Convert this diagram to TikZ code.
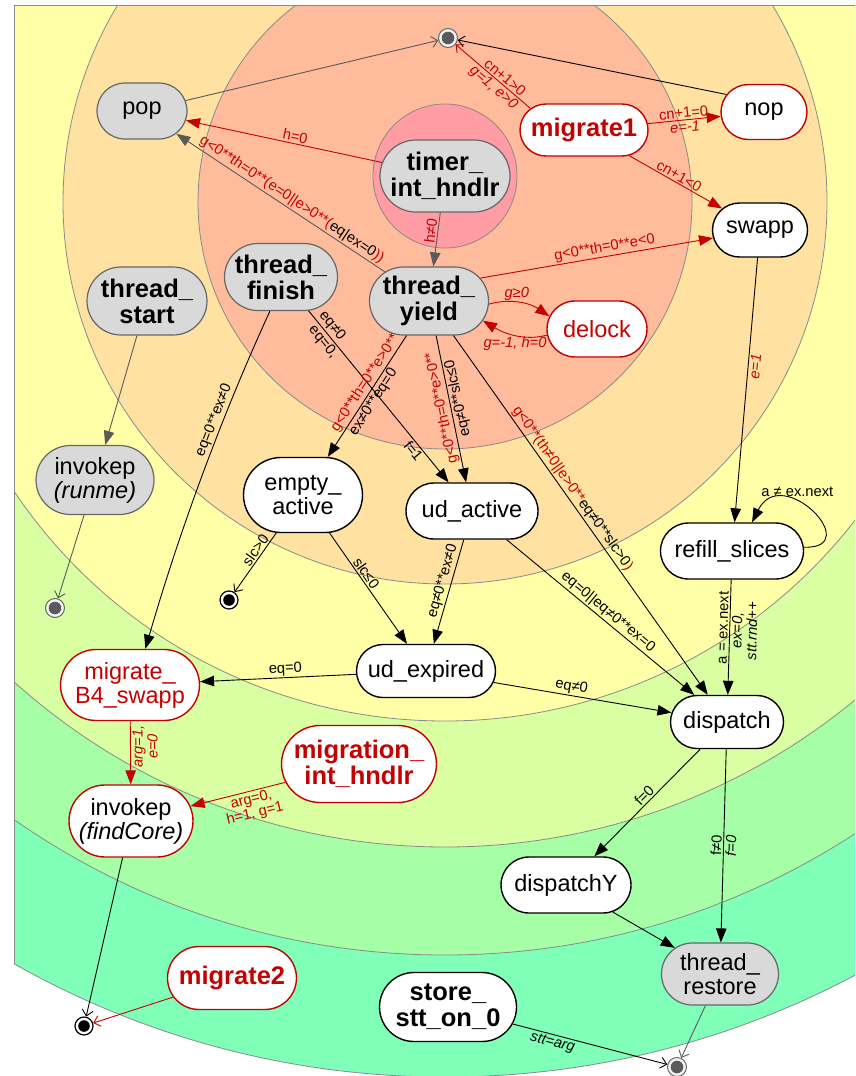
\documentclass[tikz,border=0pt]{standalone}
\usepackage{fontspec}
\setmainfont{Liberation Sans}
\usetikzlibrary{shapes.misc, arrows.meta}

\definecolor{rd}{HTML}{C40000}
\definecolor{nodegray}{HTML}{D9D9D9}
\definecolor{nodeedge}{HTML}{666666}
\definecolor{edgegray}{HTML}{5A5A5A}
\definecolor{ring}{HTML}{8A8A8A}
\definecolor{cpink}{HTML}{FF9CA4}
\definecolor{csalmon}{HTML}{FFBC9D}
\definecolor{ctan}{HTML}{FFE2A2}
\definecolor{cyel}{HTML}{FFFFA8}
\definecolor{clgrn}{HTML}{D9FFA2}
\definecolor{cgrn}{HTML}{A6FFA6}
\definecolor{cmint}{HTML}{80FFB9}

\tikzset{
  tri/.tip={Triangle[length=14pt,width=10.5pt]},
  opn/.tip={Straight Barb[length=6pt,width=11pt]},
  nd/.style={rounded rectangle, draw=black, line width=1.4pt, fill=white,
    inner sep=0pt, align=center, font=\fontsize{23.5}{24}\selectfont},
  gnd/.style={nd, fill=nodegray, draw=nodeedge, line width=1.2pt},
  rnd/.style={nd, draw=rd, text=rd},
  rbox/.style={nd, draw=rd},
  bf/.style={font=\fontsize{25.5}{26}\selectfont\bfseries},
  sz/.style 2 args={minimum width=#1pt, minimum height=#2pt},
  gfin/.style={circle, draw=nodeedge, fill=nodegray!90!black!20, line width=1pt,
    minimum size=19pt, inner sep=0pt,
    path picture={\fill[edgegray] (path picture bounding box.center) circle[radius=6.3pt];}},
  bfin/.style={circle, draw=black, fill=white, line width=1.2pt,
    minimum size=18pt, inner sep=0pt,
    path picture={\fill[black] (path picture bounding box.center) circle[radius=5.8pt];}},
  lbl/.style={font=\fontsize{14.7}{15}\selectfont, inner sep=1.5pt},
  il/.style={lbl, font=\fontsize{14.7}{15}\selectfont\itshape},
  bedge/.style={draw=black, line width=0.9pt},
  gedge/.style={draw=edgegray, line width=0.9pt},
  redge/.style={draw=rd, line width=0.9pt},
}

\begin{document}
\begin{tikzpicture}[x=1pt,y=-1pt]
\useasboundingbox (0,0) rectangle (855,1076);
\clip (0,0) rectangle (855,1076);

% concentric bands
\begin{scope}
  \clip (14,5) rectangle (880,1200);
  \foreach \r/\c in {875/cmint,753/cgrn,645/clgrn,519/cyel,382/ctan,247/csalmon}
    \filldraw[fill=\c, draw=ring, line width=0.8pt] (445,202) circle[radius=\r];
  \filldraw[fill=cpink, draw=ring, line width=0.8pt] (445,176) circle[radius=72];
\end{scope}
\begin{scope}
  \clip (445,202) circle[radius=875];
  \draw[ring, line width=1pt] (14,5) rectangle (880,1200);
\end{scope}

% states
\node[gnd, sz={90}{56}] (pop) at (142,111) {pop};
\node[rbox, sz={86}{55}] (nop) at (764,112) {nop};
\node[rnd, bf, sz={128}{52}] (m1) at (584,130) {migrate1};
\node[nd, sz={95}{54}] (swapp) at (760,230) {swapp};
\node[gnd, bf, sz={130}{72}] (timer) at (445,176) {timer\_\\int\_hndlr};
\node[gnd, bf, sz={113}{67}] (finish) at (281,277) {thread\_\\finish};
\node[gnd, bf, sz={119}{68}] (yield) at (429,301) {thread\_\\yield};
\node[rnd, sz={100}{56}] (delock) at (597,329) {delock};
\node[gnd, bf, sz={120}{68}] (start) at (147,301) {thread\_\\start};
\node[gnd, sz={118}{69}] (runme) at (95,480) {invokep\\\textit{(runme)}};
\node[nd, sz={119}{75}] (empty) at (303,495) {empty\_\\active};
\node[nd, sz={132}{56}] (udact) at (472,511) {ud\_active};
\node[nd, sz={139}{53}] (udexp) at (426,671) {ud\_expired};
\node[nd, sz={143}{56}] (refill) at (732,551) {refill\_slices};
\node[nd, sz={113}{53}] (disp) at (727,722) {dispatch};
\node[rnd, sz={139}{71}] (b4) at (130,685) {migrate\_\\B4\_swapp};
\node[rnd, bf, sz={155}{77}] (migint) at (359,764) {migration\_\\int\_hndlr};
\node[rbox, sz={124}{72}] (findcore) at (131,821) {invokep\\\textit{(findCore)}};
\node[nd, sz={130}{56}] (dispY) at (566,885) {dispatchY};
\node[gnd, sz={117}{62}] (restore) at (720,974) {thread\_\\restore};
\node[nd, bf, sz={137}{69}] (store) at (448,1007) {store\_\\stt\_on\_0};
\node[rnd, bf, sz={129}{63}] (mig2) at (232,978) {migrate2};

% final states
\node[gfin] (f1) at (448,38) {};
\node[gfin] (f2) at (55,608) {};
\node[bfin] (f3) at (229,600) {};
\node[bfin] (f4) at (84,1026) {};
\node[gfin] (f5) at (677,1067) {};

% transitions
\draw[gedge,-opn] (pop) -- (f1);
\draw[bedge,-opn] (nop.155) -- (f1);
\draw[redge,-opn] (m1.158) --
  node[lbl,text=rd,sloped,above,pos=.4]{cn+1>0}
  node[il,text=rd,sloped,below,pos=.42]{g=1, e>0} (f1);
\draw[redge,-tri] (m1) --
  node[lbl,text=rd,sloped,above]{cn+1=0}
  node[il,text=rd,sloped,below]{e=-1} (nop);
\draw[redge,-tri] (m1) -- node[lbl,text=rd,sloped,above]{cn+1<0} (swapp);
\draw[redge,-tri] (timer) -- node[lbl,text=rd,sloped,above,pos=.45]{h=0} (pop);
\draw[gedge,-tri] (timer) -- node[lbl,text=rd,sloped,above,pos=.35]{h≠0} (yield);
\draw[gedge,-tri] (yield) --
  node[lbl,sloped,above,pos=.47]{\textcolor{rd}{g<0**th=0**(e=0||e>0**(}eq|ex=0\textcolor{rd}{))}} (pop);
\draw[redge,-tri] (yield.24) -- node[lbl,text=rd,sloped,above,pos=.54]{g<0**th=0**e<0} (swapp);
\draw[redge,-tri] (yield.-3) .. controls (510,298) and (530,303) ..
  node[il,text=rd,above,pos=.45]{g≥0} (delock.165);
\draw[redge,-tri] (delock.187) .. controls (525,341) and (505,334) ..
  node[il,text=rd,below,pos=.5]{g=-1, h=0} (yield.-20);
\draw[bedge,-tri] (finish.-108) .. controls (220,420) and (179,533) ..
  node[lbl,sloped,above,pos=.34]{eq=0**ex≠0} (b4.67);
\draw[bedge,-tri] (finish) --
  node[lbl,sloped,above,pos=.12]{eq≠0}
  node[lbl,sloped,below,pos=.15]{eq=0,}
  node[lbl,sloped,below,pos=.79]{f=1} (udact);
\draw[bedge,-tri] (yield) --
  node[lbl,text=rd,sloped,above,pos=.43]{g<0**th=0**e>0**}
  node[lbl,sloped,below,pos=.51]{ex≠0**eq=0} (empty);
\draw[bedge,-tri] (yield) --
  node[lbl,text=rd,rotate=102,anchor=south,pos=.48]{g<0**th=0**e>0**}
  node[lbl,rotate=102,anchor=north,pos=.44]{eq≠0**slc≤0} (udact);
\draw[bedge,-tri] (yield) --
  node[lbl,sloped,above,pos=.44]{\textcolor{rd}{g<0**(th≠0||e>0**}eq≠0**slc>0\textcolor{rd}{)}} (disp);
\draw[bedge,-tri] (swapp) -- node[il,text=rd,sloped,below,pos=.41]{e=1} (refill);
\draw[bedge,-tri] (refill.3) .. controls (866,549) and (782,462) ..
  node[lbl,above=5pt,pos=.63]{a ≠ ex.next} (refill.55);
\draw[bedge,-tri] (refill) --
  node[lbl,sloped,above,pos=.42]{a = ex.next}
  node[il,sloped,below,pos=.44,align=center]{ex=0,\\stt.rnd++} (disp);
\draw[bedge,-opn] (empty) -- node[lbl,sloped,above,pos=.36]{slc>0} (f3);
\draw[bedge,-tri] (empty) -- node[lbl,sloped,above,pos=.4]{slc≤0} (udexp);
\draw[bedge,-tri] (udact) -- node[lbl,sloped,above,pos=.42]{eq≠0**ex≠0} (udexp);
\draw[bedge,-tri] (udact) -- node[lbl,sloped,above,pos=.51]{eq=0||eq≠0**ex=0} (disp);
\draw[bedge,-tri] (udexp) -- node[lbl,sloped,above,pos=.45]{eq=0} (b4);
\draw[bedge,-tri] (udexp) -- node[lbl,sloped,above,pos=.43]{eq≠0} (disp);
\draw[gedge,-tri] (start) -- (runme);
\draw[gedge,-opn] (runme) -- (f2);
\draw[redge,-tri] (b4) --
  node[il,text=rd,rotate=90,anchor=north,pos=.4,align=center]{arg=1,\\e=0} (findcore);
\draw[redge,-tri] (migint.194) --
  node[lbl,text=rd,sloped,below,pos=.38,align=center]{arg=0,\\h=1, g=1} (findcore);
\draw[bedge,-opn] (findcore) -- (f4);
\draw[redge,-opn] (mig2) -- (f4);
\draw[bedge,-tri] (disp) -- node[lbl,sloped,above,pos=.48]{f=0} (dispY);
\draw[bedge,-tri] (disp) --
  node[lbl,sloped,above,pos=.5]{f≠0}
  node[il,sloped,below,pos=.5]{f=0} (restore);
\draw[bedge,-tri] (dispY) -- (restore);
\draw[gedge,-opn] (restore) -- (f5);
\draw[bedge,-opn] (store) -- node[il,sloped,below,pos=.27]{stt=arg} (f5);
\end{tikzpicture}
\end{document}
